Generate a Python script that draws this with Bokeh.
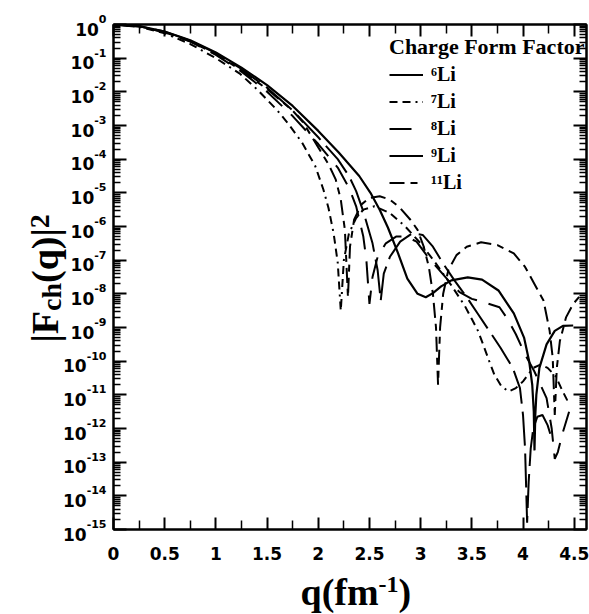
from math import pi

from bokeh.plotting import figure
from bokeh.models import (Range1d, LinearAxis, LogAxis, FixedTicker, Legend, LegendItem,
                          ColumnDataSource, CustomJSTickFormatter)
from bokeh.core.properties import value
from bokeh.embed import file_html
from bokeh.resources import INLINE

# ---------------------------------------------------------------------------
# Charge form factors |F_ch(q)|^2 of the lithium isotopes.
# q in fm^-1, values stored as log10 |F_ch(q)|^2.
# ---------------------------------------------------------------------------
q_li6 = [0.0, 0.25, 0.5, 0.75, 1.0, 1.25, 1.5, 1.75, 2.0, 2.2, 2.4, 2.51, 2.6, 2.68,
         2.78, 2.87, 2.97, 3.05, 3.12, 3.2, 3.3, 3.46, 3.6, 3.76, 3.91, 4.01, 4.06,
         4.09, 4.105, 4.112, 4.12, 4.13, 4.16, 4.23, 4.31, 4.39, 4.49]
lg_li6 = [0.0, -0.05, -0.21, -0.47, -0.83, -1.28, -1.8, -2.42, -3.16, -3.8, -4.5, -5.0,
          -5.5, -6.03, -6.8, -7.55, -8.0, -8.1, -7.98, -7.78, -7.6, -7.51, -7.58, -7.9,
          -8.58, -9.3, -10.0, -10.7, -11.5, -12.65, -11.6, -11.0, -10.2, -9.5, -9.1,
          -8.95, -8.94]

q_li7 = [0.0, 0.25, 0.5, 0.75, 1.0, 1.23, 1.4, 1.6, 1.72, 1.84, 1.97, 2.05, 2.1, 2.15,
         2.19, 2.22, 2.25, 2.3, 2.37, 2.44, 2.55, 2.7, 2.85, 3.0, 3.15, 3.3, 3.43, 3.5,
         3.56, 3.61, 3.67, 3.72, 3.79, 3.86, 3.93, 4.0, 4.1, 4.17, 4.24, 4.32, 4.38,
         4.43, 4.47]
lg_li7 = [0.0, -0.07, -0.26, -0.58, -1.0, -1.45, -1.92, -2.55, -3.0, -3.5, -4.2, -4.9,
          -5.45, -6.2, -7.07, -8.5, -7.0, -6.2, -5.75, -5.5, -5.4, -5.6, -6.0, -6.5,
          -7.1, -7.75, -8.35, -8.75, -9.1, -9.5, -10.0, -10.4, -10.75, -10.9, -10.8,
          -10.6, -10.2, -10.1, -10.2, -10.45, -10.85, -11.15, -11.2]

q_li8 = [0.0, 0.25, 0.5, 0.75, 1.0, 1.25, 1.5, 1.75, 2.0, 2.19, 2.3, 2.37, 2.44, 2.47,
         2.5, 2.53, 2.58, 2.66, 2.76, 2.86, 2.96, 3.07, 3.17, 3.27, 3.38, 3.5, 3.62,
         3.77, 3.85, 3.93, 4.02, 4.11, 4.17, 4.23, 4.28, 4.31, 4.34, 4.39, 4.45]
lg_li8 = [0.0, -0.06, -0.23, -0.51, -0.9, -1.4, -2.0, -2.72, -3.55, -4.25, -4.85, -5.4,
          -6.3, -7.0, -8.3, -7.5, -6.9, -6.5, -6.3, -6.3, -6.45, -6.9, -7.25, -7.6,
          -7.95, -8.15, -8.25, -8.4, -8.75, -9.2, -9.8, -10.3, -10.7, -11.1, -12.0,
          -12.9, -12.7, -12.1, -11.5]

q_li9 = [0.0, 0.25, 0.5, 0.75, 1.0, 1.25, 1.5, 1.75, 2.0, 2.19, 2.3, 2.37, 2.44, 2.53,
         2.58, 2.61, 2.64, 2.7, 2.8, 2.92, 3.02, 3.12, 3.22, 3.33, 3.45, 3.56, 3.67,
         3.78, 3.9, 3.97, 4.0, 4.02, 4.04, 4.055, 4.075, 4.1, 4.14, 4.19, 4.24, 4.27]
lg_li9 = [0.0, -0.05, -0.21, -0.48, -0.85, -1.32, -1.88, -2.55, -3.35, -4.0, -4.5, -4.95,
          -5.55, -6.5, -7.3, -8.2, -7.4, -6.9, -6.45, -6.2, -6.25, -6.6, -7.1, -7.6,
          -8.1, -8.6, -9.1, -9.6, -10.2, -10.8, -11.6, -12.6, -14.8, -13.6, -12.6,
          -12.0, -11.65, -11.6, -11.9, -12.2]

q_li11 = [0.0, 0.25, 0.5, 0.75, 1.0, 1.25, 1.5, 1.75, 1.85, 2.0, 2.1, 2.17, 2.22, 2.26,
          2.29, 2.31, 2.35, 2.42, 2.5, 2.6, 2.7, 2.8, 2.9, 2.97, 3.03, 3.08, 3.12, 3.15,
          3.17, 3.19, 3.22, 3.27, 3.35, 3.45, 3.59, 3.75, 3.91, 4.02, 4.11, 4.2, 4.26,
          4.29, 4.31, 4.33, 4.36, 4.42, 4.49, 4.56]
lg_li11 = [0.0, -0.06, -0.23, -0.5, -0.88, -1.36, -1.92, -2.56, -2.9, -3.65, -4.15, -4.6,
           -5.2, -6.1, -8.1, -6.6, -5.8, -5.35, -5.15, -5.1, -5.2, -5.45, -5.8, -6.1,
           -6.6, -7.2, -8.0, -9.0, -10.7, -9.0, -8.0, -7.3, -6.85, -6.6, -6.47, -6.55,
           -6.8, -7.2, -7.7, -8.2, -9.1, -9.9, -11.6, -10.2, -9.4, -8.7, -8.3, -8.05]

isotope_labels = ["\u2076Li", "\u2077Li", "\u2078Li", "\u2079Li", "\u00b9\u00b9Li"]
legend_title = "Charge Form Factor"

x_ticks = [0, 0.5, 1, 1.5, 2, 2.5, 3, 3.5, 4, 4.5]
x_minor = [0.25, 0.75, 1.25, 1.75, 2.25, 2.75, 3.25, 3.75, 4.25]
y_exponents = list(range(0, -16, -1))

# ---------------------------------------------------------------------------
# page geometry (pixels)
W, H = 589, 614
FRAME_L, FRAME_T, FRAME_R, FRAME_B = 113, 24, 586, 529
X_MAX = 4.62
DEC_PX = (FRAME_B - FRAME_T) / 15.0          # pixels per decade
Q_PX = (FRAME_R - FRAME_L) / X_MAX           # pixels per fm^-1


def q_at(px):
    """q value at page column px"""
    return (px - FRAME_L) / Q_PX


def f_at(py):
    """|F|^2 value at page row py"""
    return 10.0 ** (-(py - FRAME_T) / DEC_PX)


p = figure(width=W, height=H, x_range=Range1d(0, X_MAX), y_range=Range1d(1e-15, 1.0),
           y_axis_type="log", output_backend="svg", toolbar_location=None,
           min_border_left=FRAME_L, min_border_right=W - FRAME_R,
           min_border_top=FRAME_T, min_border_bottom=H - FRAME_B)
p.grid.visible = False
p.outline_line_color = "black"
p.outline_line_width = 2
p.background_fill_color = "white"
p.border_fill_color = "white"

xt = FixedTicker(ticks=x_ticks, minor_ticks=x_minor)
yt = FixedTicker(ticks=[10.0 ** k for k in y_exponents],
                 minor_ticks=[m * 10.0 ** k for k in range(-15, 0) for m in range(2, 10)])

TICK_FONT = "DejaVu Sans"


def style_axis(ax, major_in, minor_in):
    ax.axis_line_width = 2
    ax.axis_line_color = "black"
    ax.major_tick_in = major_in
    ax.major_tick_out = 0
    ax.minor_tick_in = minor_in
    ax.minor_tick_out = 0
    ax.major_tick_line_width = 2
    ax.minor_tick_line_width = 1.5
    ax.major_tick_line_color = "black"
    ax.minor_tick_line_color = "black"


def hide_labels(ax):
    ax.formatter = CustomJSTickFormatter(code="return ''")
    ax.major_label_text_font_size = "0px"
    ax.major_label_standoff = 0
    ax.axis_label = None


bx = p.xaxis[0]
bx.ticker = xt
bx.formatter = CustomJSTickFormatter(code="return tick.toString()")
style_axis(bx, 12, 9)
bx.major_label_text_font = TICK_FONT
bx.major_label_text_font_style = "bold"
bx.major_label_text_font_size = "17px"
bx.major_label_text_color = "black"
bx.major_label_standoff = 17

ly = p.yaxis[0]
ly.ticker = yt
style_axis(ly, 13, 7)
hide_labels(ly)

top_ax = LinearAxis(ticker=xt)
style_axis(top_ax, 12, 9)
hide_labels(top_ax)
p.add_layout(top_ax, "above")

right_ax = LogAxis(ticker=yt)
style_axis(right_ax, 13, 7)
hide_labels(right_ax)
p.add_layout(right_ax, "right")

# curves
styles = [
    (q_li6, lg_li6, "solid", 2.2),
    (q_li7, lg_li7, "8 5 8 5 2 5", 2.0),
    (q_li8, lg_li8, "22 12", 2.0),
    (q_li9, lg_li9, "34 8", 2.0),
    (q_li11, lg_li11, "15 6 7 6", 2.0),
]
renderers = []
for qs, lgs, dash, lw in styles:
    src = ColumnDataSource(dict(q=qs, f=[10.0 ** v for v in lgs]))
    r = p.line("q", "f", source=src, line_color="black", line_width=lw, line_dash=dash)
    renderers.append(r)

legend = Legend(
    items=[LegendItem(label=lab, renderers=[r]) for lab, r in zip(isotope_labels, renderers)],
    location=(389 - FRAME_L, FRAME_B - 194),
    title=legend_title,
    title_text_font="Liberation Serif", title_text_font_style="bold",
    title_text_font_size="22px", title_text_color="black", title_standoff=3,
    label_text_font="Liberation Serif", label_text_font_style="bold",
    label_text_font_size="20px", label_text_color="black",
    glyph_width=34, glyph_height=21, label_height=21, spacing=4,
    label_standoff=8, padding=0, margin=0,
    border_line_alpha=0, background_fill_alpha=0,
)
p.add_layout(legend)

# ---------------------------------------------------------------------------
# y tick labels: "10" with a raised exponent (drawn on the overlay level so
# they may sit in the margin beside the frame)
BASE_SIZE = 17
EXP_SIZE = 11
EXP_RIGHT = 106


def exp_width(s):
    return sum((0.415 if ch == "-" else 0.696) * EXP_SIZE for ch in s)


exp_txt = [str(k) for k in y_exponents]
tick_src = ColumnDataSource(dict(
    xb=[q_at(EXP_RIGHT - exp_width(s)) for s in exp_txt],
    yb=[10.0 ** (k - 4.5 / DEC_PX) for k in y_exponents],
    xe=[q_at(EXP_RIGHT)] * len(y_exponents),
    ye=[10.0 ** (k + 5.5 / DEC_PX) for k in y_exponents],
    base=["10"] * len(y_exponents),
    sup=exp_txt,
))
p.text(x="xb", y="yb", text="base", source=tick_src, text_align="right",
       text_baseline="middle", text_font=value(TICK_FONT), text_font_style="bold",
       text_font_size=f"{BASE_SIZE}px", text_color="black", level="overlay")
p.text(x="xe", y="ye", text="sup", source=tick_src, text_align="right",
       text_baseline="middle", text_font=value(TICK_FONT), text_font_style="bold",
       text_font_size=f"{EXP_SIZE}px", text_color="black", level="overlay")

# axis titles, assembled from pieces for the sub- and superscripts;
# each piece is placed by the middle of its line box
SERIF = "Liberation Serif"
MAIN = 38
SMALL = 28
MID = 0.34      # middle of the line box above the baseline, in em


def put(txt, px, py, size, angle=0.0):
    p.text(x=[q_at(px)], y=[f_at(py)], text=[txt], angle=angle, text_align="left",
           text_baseline="middle", text_font=value(SERIF),
           text_font_style="bold", text_font_size=f"{size}px", text_color="black",
           level="overlay")


# |F_ch(q)|^2, rotated, running upwards; baseline column at x = 57
ybase = 57
yy = 342
put("|F", ybase - MID * MAIN, yy, MAIN, pi / 2)
yy -= (0.22 + 0.611) * MAIN
put("ch", ybase + 4 - MID * SMALL, yy, SMALL, pi / 2)
yy -= (0.444 + 0.556) * SMALL
put("(q)|", ybase - MID * MAIN, yy, MAIN, pi / 2)
yy -= (0.333 + 0.556 + 0.333 + 0.22) * MAIN
put("2", ybase - 8 - MID * SMALL, yy, SMALL, pi / 2)

# q(fm^-1); baseline row at y = 604
xbase = 604
xx = 300
put("q(fm", xx, xbase - MID * MAIN, MAIN)
xx += (0.556 + 0.333 + 0.333 + 0.833) * MAIN
put("-1", xx, xbase - 12 - MID * 24, 24)
xx += (0.333 + 0.5) * 24
put(")", xx, xbase - MID * MAIN, MAIN)

open("out.html", "w").write(file_html(p, INLINE))
